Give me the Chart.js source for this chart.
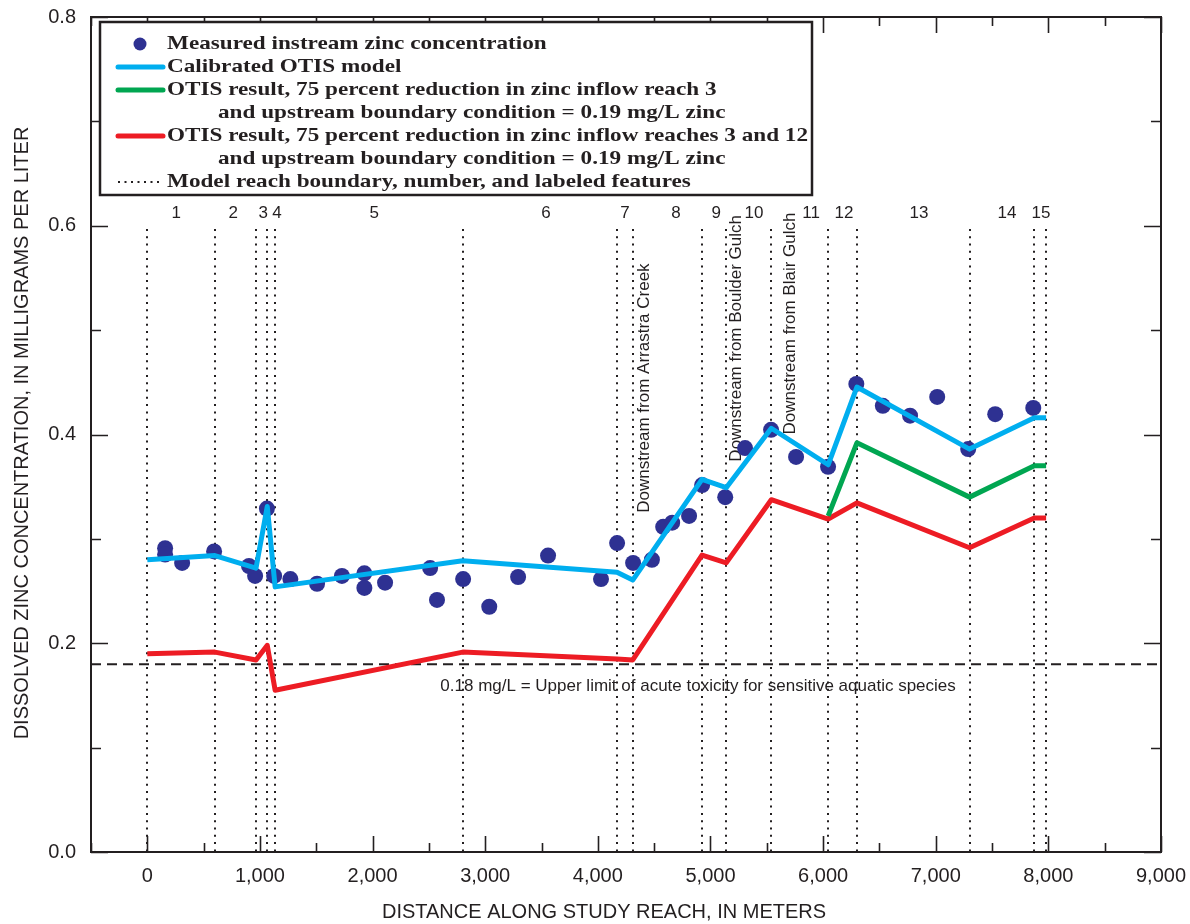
<!DOCTYPE html>
<html>
<head>
<meta charset="utf-8">
<script src="https://cdn.jsdelivr.net/npm/chart.js@4.4.1/dist/chart.umd.min.js"></script>
<style>
html,body{margin:0;padding:0;background:#fff;}
#wrap{width:1190px;height:924px;position:relative;}
</style>
</head>
<body>
<div id="wrap"><canvas id="c" width="1190" height="924"></canvas></div>
<script>
// ---------------- DATA ----------------
const measuredX = [158,158,309,593,903,957,1062,1126,1270,1507,1728,1927,1927,2111,2511,2572,2804,3036,3292,3558,4028,4171,4313,4480,4580,4660,4810,4926,5131,5307,5538,5760,6044,6295,6530,6772,7013,7288,7528,7866];
const measuredY = [0.291,0.285,0.277,0.288,0.274,0.2645,0.329,0.2645,0.2615,0.257,0.2645,0.267,0.253,0.258,0.272,0.2415,0.2615,0.235,0.2635,0.284,0.2615,0.296,0.277,0.280,0.3115,0.3155,0.322,0.3515,0.340,0.387,0.4045,0.3785,0.369,0.4485,0.4275,0.418,0.436,0.386,0.4195,0.4255];

const modelX = [0,600,965,1065,1135,2800,4170,4310,4925,5140,5540,6045,6300,7300,7875,7980];
const calibratedY = [0.280,0.284,0.272,0.331,0.254,0.279,0.268,0.2605,0.357,0.349,0.406,0.371,0.4455,0.386,0.416,0.416];
const reduction312Y = [0.190,0.1915,0.184,0.198,0.155,0.1915,0.185,0.184,0.2845,0.277,0.3375,0.319,0.3345,0.2915,0.320,0.320];
const reduction3X = [6045,6300,7300,7875,7980];
const reduction3Y = [0.322,0.392,0.340,0.370,0.370];

const toxicityLimit = 0.18;
const toxicityLabel = '0.18 mg/L = Upper limit of acute toxicity for sensitive aquatic species';

const reachBoundaries = [0,600,965,1065,1135,2800,4170,4310,4925,5140,5540,6045,6300,7300,7875,7980];
const reachNumbers = ['1','2','3','4','5','6','7','8','9','10','11','12','13','14','15'];
const reachNumberX = [256,762,1029,1152,2014,3540,4241,4694,5050,5387,5893,6186,6852,7633,7935];

const featureLabels = ['Downstream from Arrastra Creek','Downstream from Boulder Gulch','Downstream from Blair Gulch'];
const featureX = [4310,5140,5540];

const xTickValues = [0,1000,2000,3000,4000,5000,6000,7000,8000,9000];
const yTickValues = [0,0.2,0.4,0.6,0.8];

const legendLabels = [
  'Measured instream zinc concentration',
  'Calibrated OTIS model',
  'OTIS result, 75 percent reduction in zinc inflow reach 3',
  'and upstream boundary condition = 0.19 mg/L zinc',
  'OTIS result, 75 percent reduction in zinc inflow reaches 3 and 12',
  'and upstream boundary condition = 0.19 mg/L zinc',
  'Model reach boundary, number, and labeled features'
];
const xTitle = 'DISTANCE ALONG STUDY REACH, IN METERS';
const yTitle = 'DISSOLVED ZINC CONCENTRATION, IN MILLIGRAMS PER LITER';

// ---------------- STYLE ----------------
const INK = '#231f20';
const NAVY = '#2e3192';
const BLUE = '#00aeef';
const GREEN = '#00a651';
const RED = '#ed1c24';
const SANS = '"Liberation Sans", Arial, Helvetica, sans-serif';
const SERIF = '"Liberation Serif", "DejaVu Serif", serif';

const pts = (xs, ys) => xs.map((x, i) => ({x: x, y: ys[i]}));

const decorPlugin = {
  id: 'decor',
  beforeDatasetsDraw(chart) {
    const {ctx, chartArea: a, scales: {x, y}} = chart;
    ctx.save();
    // reach boundaries (dotted)
    ctx.strokeStyle = INK;
    ctx.lineWidth = 2;
    ctx.setLineDash([2, 5.3]);
    const yTop = y.getPixelForValue(0.597);
    reachBoundaries.forEach(b => {
      const px = Math.round(x.getPixelForValue(b));
      ctx.beginPath();
      ctx.moveTo(px, yTop);
      ctx.lineTo(px, a.bottom);
      ctx.stroke();
    });
    ctx.setLineDash([]);
    // reach numbers
    ctx.fillStyle = INK;
    ctx.font = '17px ' + SANS;
    ctx.textAlign = 'center';
    ctx.textBaseline = 'middle';
    const yNum = y.getPixelForValue(0.612);
    reachNumbers.forEach((n, i) => {
      ctx.fillText(n, x.getPixelForValue(reachNumberX[i]), yNum);
    });
    // feature labels (rotated)
    ctx.font = '17px ' + SANS;
    ctx.textAlign = 'left';
    const offs = [[12, 0.325], [10, 0.374], [19, 0.400]];
    featureLabels.forEach((t, i) => {
      ctx.save();
      ctx.translate(x.getPixelForValue(featureX[i]) + offs[i][0], y.getPixelForValue(offs[i][1]));
      ctx.rotate(-Math.PI / 2);
      ctx.fillText(t, 0, 0);
      ctx.restore();
    });
    // toxicity label
    ctx.textAlign = 'center';
    ctx.fillText(toxicityLabel, x.getPixelForValue(4890), y.getPixelForValue(toxicityLimit) + 22);
    ctx.restore();
  },
  afterDraw(chart) {
    const {ctx, chartArea: a, scales: {x, y}} = chart;
    ctx.save();
    // ticks
    ctx.strokeStyle = INK;
    ctx.lineWidth = 1.6;
    for (let v = -500; v <= 9000; v += 500) {
      const px = Math.round(x.getPixelForValue(v)) + 0.5;
      const len = (v % 1000 === 0) ? 16 : 9;
      ctx.beginPath();
      ctx.moveTo(px, a.bottom); ctx.lineTo(px, a.bottom - len);
      ctx.moveTo(px, a.top); ctx.lineTo(px, a.top + len);
      ctx.stroke();
    }
    for (let k = 0; k <= 8; k++) {
      const v = k / 10;
      const py = Math.round(y.getPixelForValue(v)) + 0.5;
      const len = (k % 2 === 0) ? 17 : 10;
      ctx.beginPath();
      ctx.moveTo(a.left, py); ctx.lineTo(a.left + len, py);
      ctx.moveTo(a.right, py); ctx.lineTo(a.right - len, py);
      ctx.stroke();
    }
    // frame
    ctx.lineWidth = 2;
    ctx.strokeRect(a.left, a.top, a.right - a.left, a.bottom - a.top);

    // axis titles
    ctx.fillStyle = INK;
    ctx.font = '20px ' + SANS;
    ctx.textAlign = 'center';
    ctx.textBaseline = 'middle';
    ctx.fillText(xTitle, 604, 912);
    ctx.save();
    ctx.translate(22, 433);
    ctx.rotate(-Math.PI / 2);
    ctx.fillText(yTitle, 0, 0);
    ctx.restore();

    // legend box
    const L = {x: 100, y: 22, w: 712, h: 173};
    ctx.fillStyle = '#fff';
    ctx.fillRect(L.x, L.y, L.w, L.h);
    ctx.lineWidth = 2.5;
    ctx.strokeStyle = INK;
    ctx.strokeRect(L.x, L.y, L.w, L.h);

    const rows = [44, 67, 90, 113, 136, 159, 182];
    // symbols
    ctx.fillStyle = NAVY;
    ctx.beginPath(); ctx.arc(140, rows[0], 6.5, 0, Math.PI * 2); ctx.fill();
    ctx.lineCap = 'round';
    ctx.lineWidth = 5;
    [[BLUE, rows[1]], [GREEN, rows[2]], [RED, rows[4]]].forEach(([c, yy]) => {
      ctx.strokeStyle = c;
      ctx.beginPath(); ctx.moveTo(118, yy); ctx.lineTo(163, yy); ctx.stroke();
    });
    ctx.lineCap = 'butt';
    ctx.strokeStyle = INK;
    ctx.lineWidth = 2;
    ctx.setLineDash([2, 4.5]);
    ctx.beginPath(); ctx.moveTo(118, rows[6]); ctx.lineTo(163, rows[6]); ctx.stroke();
    ctx.setLineDash([]);

    // text
    ctx.fillStyle = INK;
    ctx.font = 'bold 19px ' + SERIF;
    ctx.textAlign = 'left';
    ctx.textBaseline = 'middle';
    const natural = ctx.measureText(legendLabels[4]).width;
    const sx = 641 / natural;
    const xs = [167, 167, 167, 218, 167, 218, 167];
    legendLabels.forEach((t, i) => {
      ctx.save();
      ctx.scale(sx, 1);
      ctx.fillText(t, xs[i] / sx, rows[i]);
      ctx.restore();
    });
    ctx.restore();
  }
};

const lineBase = {borderWidth: 5, pointRadius: 0, tension: 0, borderJoinStyle: 'round', borderCapStyle: 'butt'};

const chart = new Chart(document.getElementById('c'), {
  type: 'line',
  data: {
    datasets: [
      {
        label: 'Measured instream zinc concentration',
        type: 'scatter',
        data: pts(measuredX, measuredY),
        backgroundColor: NAVY,
        borderColor: NAVY,
        pointRadius: 8,
        pointBorderWidth: 0,
        showLine: false,
        order: 10
      },
      {
        label: '0.18 mg/L',
        data: [{x: -500, y: toxicityLimit}, {x: 9000, y: toxicityLimit}],
        borderColor: INK,
        borderWidth: 2,
        borderDash: [10, 6],
        pointRadius: 0,
        order: 11
      },
      Object.assign({
        label: 'OTIS 75% reduction reaches 3 and 12',
        data: pts(modelX, reduction312Y),
        borderColor: RED,
        order: 4
      }, lineBase),
      Object.assign({
        label: 'OTIS 75% reduction reach 3',
        data: pts(reduction3X, reduction3Y),
        borderColor: GREEN,
        order: 3
      }, lineBase),
      Object.assign({
        label: 'Calibrated OTIS model',
        data: pts(modelX, calibratedY),
        borderColor: BLUE,
        order: 2
      }, lineBase)
    ]
  },
  options: {
    responsive: false,
    animation: false,
    devicePixelRatio: 1,
    layout: {padding: {left: 0, right: 29, top: 17, bottom: 0}},
    plugins: {legend: {display: false}, tooltip: {enabled: false}},
    scales: {
      x: {
        type: 'linear',
        min: -500, max: 9000,
        grid: {display: false, drawTicks: false},
        border: {display: false},
        afterBuildTicks: s => { s.ticks = xTickValues.map(v => ({value: v})); },
        afterFit: s => { s.height = 72; s.paddingLeft = 0; s.paddingRight = 0; s.paddingTop = 0; s.paddingBottom = 0; },
        ticks: {
          padding: 12,
          color: INK,
          font: {family: SANS, size: 20},
          maxRotation: 0,
          callback: v => v.toLocaleString('en-US')
        }
      },
      y: {
        type: 'linear',
        min: 0, max: 0.8,
        grid: {display: false, drawTicks: false},
        border: {display: false},
        afterBuildTicks: s => { s.ticks = yTickValues.map(v => ({value: v})); },
        afterFit: s => { s.width = 91; s.paddingLeft = 0; s.paddingRight = 0; s.paddingTop = 0; s.paddingBottom = 0; },
        ticks: {
          padding: 15,
          color: INK,
          font: {family: SANS, size: 20},
          callback: v => v.toFixed(1)
        }
      }
    }
  },
  plugins: [decorPlugin]
});
</script>
</body>
</html>
